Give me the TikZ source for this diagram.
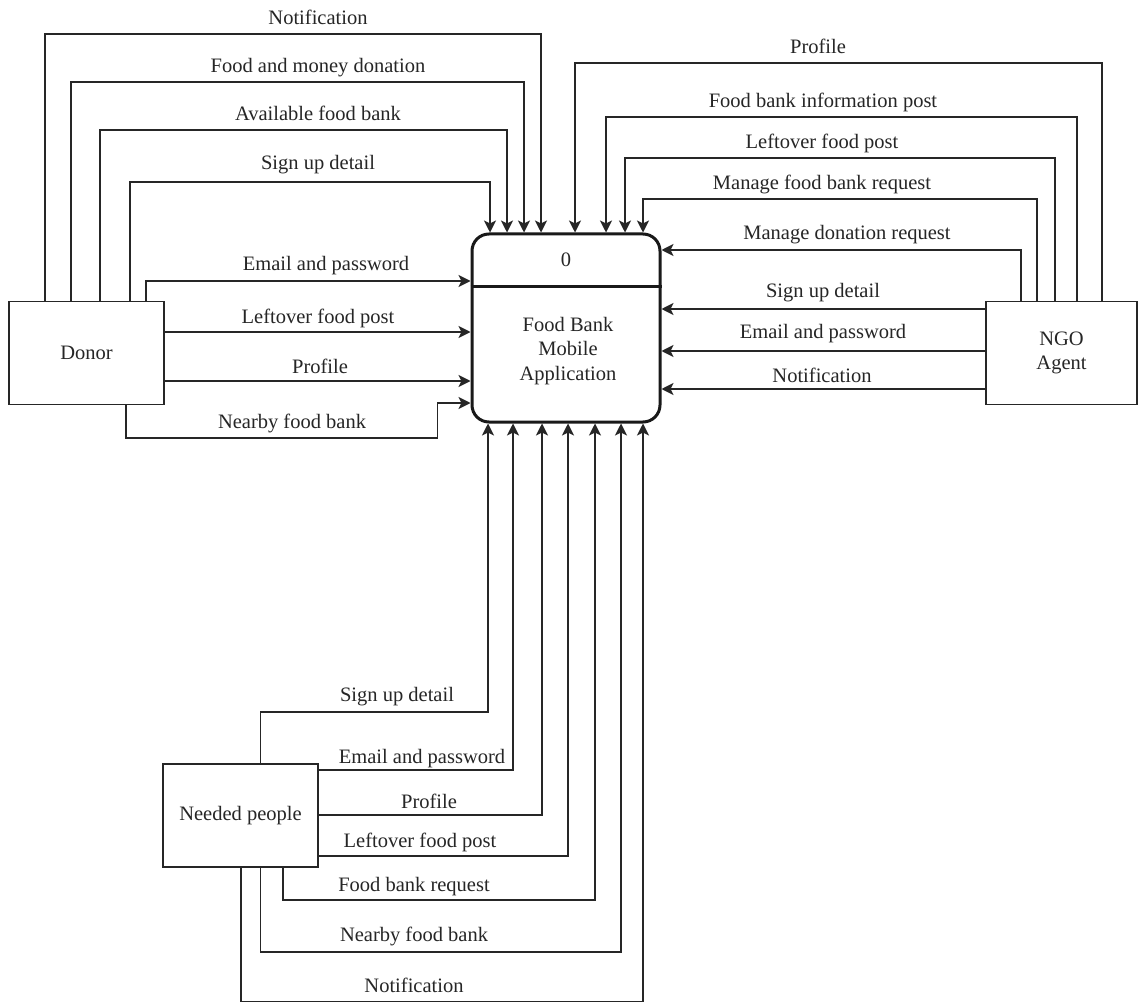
\documentclass[tikz,border=0pt]{standalone}
\usepackage{fontspec}
\setmainfont{Liberation Serif}
\usetikzlibrary{arrows.meta}
\newcommand\dfdfont{\fontsize{20.5}{24.5}\selectfont}
\begin{document}
\begin{tikzpicture}[x=1pt,y=-1pt,
  every node/.style={font=\dfdfont, text=black!85},
  entity/.style={draw=black!85, line width=1.6pt, fill=white, minimum width=155pt, minimum height=103pt, inner sep=0pt, align=center},
  process/.style={draw=black!90, line width=3pt, rounded corners=17pt, minimum width=188pt, minimum height=188pt, inner sep=0pt},
  flow/.style={draw=black!85, line width=1.6pt, -{Stealth[length=12pt,width=12pt,inset=3pt]}},
  lbl/.style={anchor=base, inner sep=0pt}
]
\useasboundingbox (0,0) rectangle (1138,1003);
\fill[white] (0,0) rectangle (1138,1003);

% nodes
\node[process] (app) at (566,328) {};
\draw[black!90, line width=3pt] (app.west |- 0,286) -- (app.east |- 0,286);
\node (appnum) at (566,260) {0};
\node[align=center] (apptext) at (568,351) {Food Bank\\Mobile\\Application};

\node[entity] (donor) at (86.6,353) {Donor};
\node[entity, minimum width=151pt] (ngo) at (1061.5,353) {NGO\\Agent};
\node[entity] (needy) at (240.5,815.5) {Needed people};

% Donor flows
\draw[flow] (donor.north -| 45,0) |- (541,34) -- (app.north -| 541,0);
\draw[flow] (donor.north -| 71,0) |- (524,82) -- (app.north -| 524,0);
\draw[flow] (donor.north -| 100,0) |- (507,130) -- (app.north -| 507,0);
\draw[flow] (donor.north -| 130,0) |- (490,182) -- (app.north -| 490,0);
\draw[flow] (donor.north -| 146,0) |- (app.west |- 0,281);
\draw[flow] (donor.east |- 0,332) -- (app.west |- 0,332);
\draw[flow] (donor.east |- 0,381) -- (app.west |- 0,381);
\draw[flow] (donor.south -| 126,0) |- (437.5,438) |- (app.west |- 0,403);

\node[lbl] (d1) at (318,25) {Notification};
\node[lbl] (d2) at (318,73) {Food and money donation};
\node[lbl] (d3) at (318,121) {Available food bank};
\node[lbl] (d4) at (318,170) {Sign up detail};
\node[lbl] (d5) at (326,270) {Email and password};
\node[lbl] (d6) at (318,323) {Leftover food post};
\node[lbl] (d7) at (320,373) {Profile};
\node[lbl] (d8) at (292,428) {Nearby food bank};

% NGO flows
\draw[flow] (ngo.north -| 1102,0) |- (575,63) -- (app.north -| 575,0);
\draw[flow] (ngo.north -| 1077,0) |- (606,117) -- (app.north -| 606,0);
\draw[flow] (ngo.north -| 1055,0) |- (625,158) -- (app.north -| 625,0);
\draw[flow] (ngo.north -| 1037,0) |- (643,199) -- (app.north -| 643,0);
\draw[flow] (ngo.north -| 1021,0) |- (app.east |- 0,250);
\draw[flow] (ngo.west |- 0,309) -- (app.east |- 0,309);
\draw[flow] (ngo.west |- 0,351) -- (app.east |- 0,351);
\draw[flow] (ngo.west |- 0,389) -- (app.east |- 0,389);

\node[lbl] (n1) at (818,54) {Profile};
\node[lbl] (n2) at (823,108) {Food bank information post};
\node[lbl] (n3) at (822,149) {Leftover food post};
\node[lbl] (n4) at (822,190) {Manage food bank request};
\node[lbl] (n5) at (847,240) {Manage donation request};
\node[lbl] (n6) at (823,297) {Sign up detail};
\node[lbl] (n7) at (823,338) {Email and password};
\node[lbl] (n8) at (822,382) {Notification};

% Needed people flows
\draw[flow] (needy.north -| 260.5,0) |- (488,712) -- (app.south -| 488,0);
\draw[flow] (needy.east |- 0,770) -| (app.south -| 513,0);
\draw[flow] (needy.east |- 0,815) -| (app.south -| 542,0);
\draw[flow] (needy.east |- 0,856) -| (app.south -| 568,0);
\draw[flow] (needy.south -| 283,0) |- (595,900) -- (app.south -| 595,0);
\draw[flow] (needy.south -| 260.5,0) |- (621,952) -- (app.south -| 621,0);
\draw[flow] (needy.south -| 241,0) |- (643,1001.5) -- (app.south -| 643,0);

\node[lbl] (p1) at (397,701) {Sign up detail};
\node[lbl] (p2) at (422,763) {Email and password};
\node[lbl] (p3) at (429,808) {Profile};
\node[lbl] (p4) at (420,847) {Leftover food post};
\node[lbl] (p5) at (414,891) {Food bank request};
\node[lbl] (p6) at (414,941) {Nearby food bank};
\node[lbl] (p7) at (414,992) {Notification};
\end{tikzpicture}
\end{document}
